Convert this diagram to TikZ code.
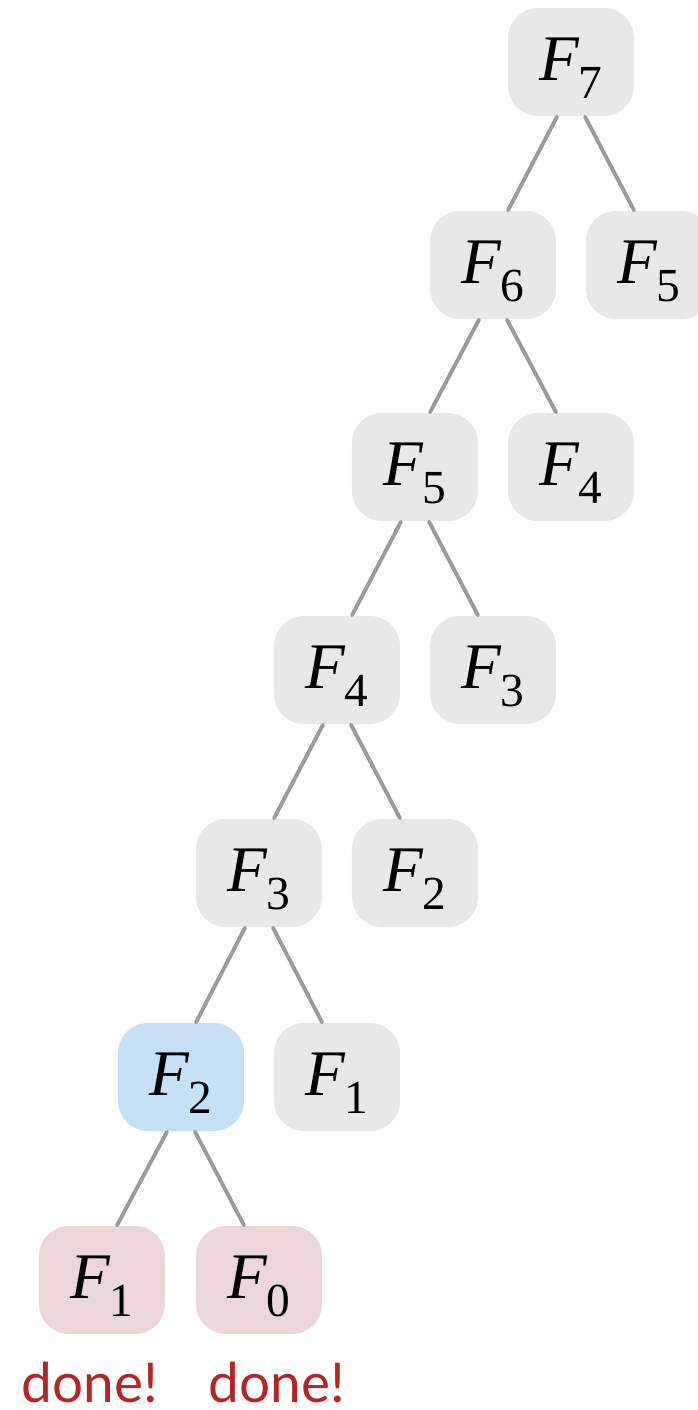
\documentclass[tikz,border=0pt]{standalone}
\usepackage{fontspec}
\setmainfont{Liberation Serif}
\newfontfamily\donefont{Lato}
\definecolor{boxgray}{HTML}{E8E8E7}
\definecolor{boxblue}{HTML}{C6E1F6}
\definecolor{boxpink}{HTML}{EBD7D9}
\definecolor{edgegray}{HTML}{9B9B97}
\definecolor{donered}{HTML}{B52427}
% F with a lowered index
\newcommand{\fib}[1]{\textit{F}\kern-0.03em\raisebox{-0.29em}{\fontsize{13.5}{14}\selectfont#1}}
\begin{document}
\begin{tikzpicture}[line join=round,line cap=round,
	call/.style={rounded corners=0.3cm,minimum width=1.26cm,minimum height=1.08cm,inner sep=0pt,
		text height=0.38cm,text depth=0.02cm,fill=boxgray,font=\fontsize{18.5}{20}\selectfont},
	edge/.style={draw=edgegray,line width=1.1pt},
	donetext/.style={inner sep=0pt,text=donered,font=\donefont\fontsize{15.6}{18}\selectfont}]
	\useasboundingbox (0,0) rectangle (6.98,-14.10);
	% left spine of the call tree
	\node[call] (s0) at (5.71,-0.62) {\fib{7}};
	\node[call] (s1) at (4.93,-2.65) {\fib{6}};
	\node[call] (s2) at (4.15,-4.67) {\fib{5}};
	\node[call] (s3) at (3.37,-6.70) {\fib{4}};
	\node[call] (s4) at (2.59,-8.73) {\fib{3}};
	\node[call,fill=boxblue] (s5) at (1.81,-10.77) {\fib{2}};
	\node[call,fill=boxpink] (s6) at (1.02,-12.80) {\fib{1}};
	% right children
	\node[call] (r1) at (6.49,-2.65) {\fib{5}};
	\node[call] (r2) at (5.71,-4.67) {\fib{4}};
	\node[call] (r3) at (4.93,-6.70) {\fib{3}};
	\node[call] (r4) at (4.15,-8.73) {\fib{2}};
	\node[call] (r5) at (3.37,-10.77) {\fib{1}};
	\node[call,fill=boxpink] (r6) at (2.59,-12.80) {\fib{0}};
	\foreach \p/\l/\r in {s0/s1/r1,s1/s2/r2,s2/s3/r3,s3/s4/r4,s4/s5/r5,s5/s6/r6}
	{
		\draw[edge] ([xshift=-0.14cm]\p.south) -- ([xshift=0.15cm]\l.north);
		\draw[edge] ([xshift=0.14cm]\p.south) -- ([xshift=-0.15cm]\r.north);
	}
	\node[donetext,anchor=base] (d1) at (0.90,-14.02) {done!};
	\node[donetext,anchor=base] (d2) at (2.77,-14.02) {done!};
\end{tikzpicture}
\end{document}
